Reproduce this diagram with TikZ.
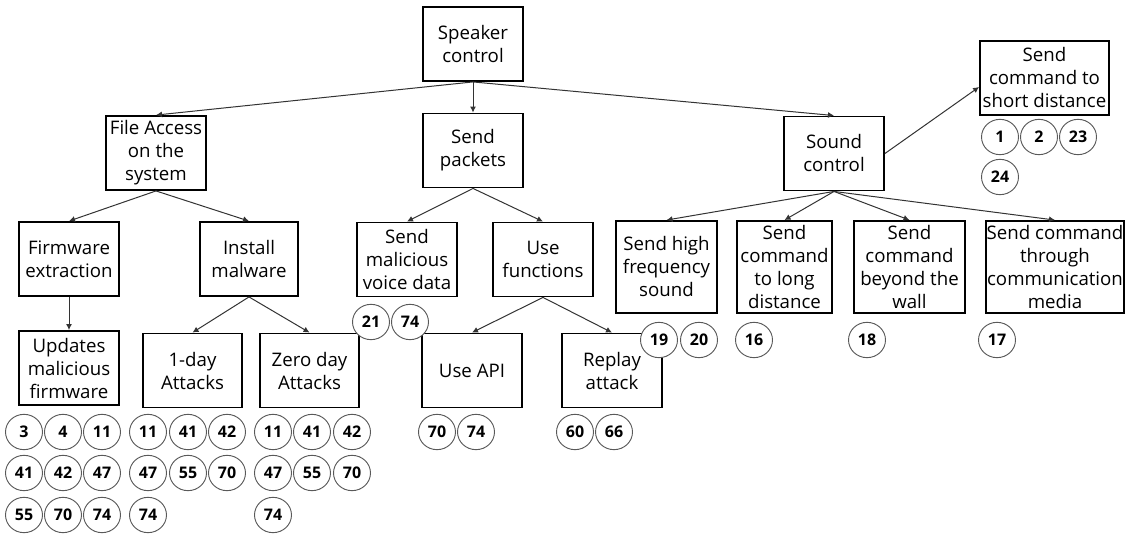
\documentclass[tikz,border=0pt]{standalone}
\usepackage{fontspec}
\setmainfont{Open Sans}
\usetikzlibrary{arrows.meta,shapes.geometric}
\begin{document}
\begin{tikzpicture}[x=0.75pt,y=-0.75pt,
  box/.style={draw=black,line width=1.4pt,fill=white,align=center,inner sep=0pt,
    minimum width=75pt,minimum height=55.5pt,font=\fontsize{14}{17.25}\selectfont},
  tall/.style={minimum height=69pt},
  num/.style={ellipse,draw=black!65,line width=0.7pt,fill=white,inner sep=0pt,
    minimum width=27.75pt,minimum height=26.5pt,font=\fontsize{12}{14}\selectfont\bfseries},
  conn/.style={draw=black!80,line width=0.75pt,-{Latex[length=4.5pt,width=4.5pt]}}]
\useasboundingbox (0,0) rectangle (1127,534);
% boxes
\node[box] (speaker) at (473,44) {Speaker\\control};
\node[box] (fileaccess) at (156,153) {File Access\\on the\\system};
\node[box] (packets) at (473,150.5) {Send\\packets};
\node[box] (sound) at (834,153.5) {Sound\\control};
\node[box,minimum width=96.75pt] (short) at (1044.5,78) {Send\\command to\\short distance};
\node[box] (firmware) at (69,259) {Firmware\\extraction};
\node[box,minimum width=73.5pt] (install) at (249,259) {Install\\malware};
\node[box] (voice) at (407,259.5) {Send\\malicious\\voice data};
\node[box] (functions) at (543,259.5) {Use\\functions};
\node[box,tall,minimum width=75.75pt] (highfreq) at (666.5,267) {Send high\\frequency\\sound};
\node[box,tall,minimum width=71.25pt] (long) at (784.5,267) {Send\\command\\to long\\distance};
\node[box,tall,minimum width=83.25pt] (wall) at (909.5,267) {Send\\command\\beyond the\\wall};
\node[box,tall,minimum width=103.5pt] (media) at (1055,267) {Send command\\through\\communication\\media};
\node[box] (updates) at (69,368) {Updates\\malicious\\firmware};
\node[box,minimum width=74.25pt] (oneday) at (192.5,370.5) {1-day\\Attacks};
\node[box,minimum width=74.25pt] (zeroday) at (309.5,370.5) {Zero day\\Attacks};
\node[box] (api) at (472,370.5) {Use API};
\node[box] (replay) at (612,370.5) {Replay\\attack};
% connectors
\draw[conn] (speaker.south) -- (fileaccess.north);
\draw[conn] (speaker.south) -- (packets.north);
\draw[conn] (speaker.south) -- (sound.north);
\draw[conn] (fileaccess.south) -- (firmware.north);
\draw[conn] (fileaccess.south) -- (install.north);
\draw[conn] (packets.south) -- (voice.north);
\draw[conn] (packets.south) -- (functions.north);
\draw[conn] (sound.east) -- ([yshift=-6.75pt]short.west);
\draw[conn] (sound.south) -- (highfreq.north);
\draw[conn] (sound.south) -- (long.north);
\draw[conn] (sound.south) -- (wall.north);
\draw[conn] (sound.south) -- (media.north);
\draw[conn] (firmware.south) -- (updates.north);
\draw[conn] (install.south) -- (oneday.north);
\draw[conn] (install.south) -- (zeroday.north);
\draw[conn] (functions.south) -- (api.north);
\draw[conn] (functions.south) -- (replay.north);
% reference numbers
\node[num] (u1) at (24,432) {3};
\node[num] (u2) at (63,432) {4};
\node[num] (u3) at (102,432) {11};
\node[num] (u4) at (24,473) {41};
\node[num] (u5) at (63,473) {42};
\node[num] (u6) at (102,473) {47};
\node[num] (u7) at (24,515) {55};
\node[num] (u8) at (63,515) {70};
\node[num] (u9) at (102,515) {74};
\node[num] (o1) at (148,432) {11};
\node[num] (o2) at (188,432) {41};
\node[num] (o3) at (227,432) {42};
\node[num] (o4) at (148,473) {47};
\node[num] (o5) at (188,473) {55};
\node[num] (o6) at (227,473) {70};
\node[num] (o7) at (148,515) {74};
\node[num] (z1) at (273,432) {11};
\node[num] (z2) at (312,432) {41};
\node[num] (z3) at (352,432) {42};
\node[num] (z4) at (273,473) {47};
\node[num] (z5) at (312,473) {55};
\node[num] (z6) at (352,473) {70};
\node[num] (z7) at (273,515) {74};
\node[num] (v1) at (371,322) {21};
\node[num] (v2) at (410,322) {74};
\node[num] (a1) at (437,432) {70};
\node[num] (a2) at (476,432) {74};
\node[num] (r1) at (575,432) {60};
\node[num] (r2) at (614,432) {66};
\node[num] (h1) at (659,340) {19};
\node[num] (h2) at (699,340) {20};
\node[num] (l1) at (754,340) {16};
\node[num] (w1) at (867,340) {18};
\node[num] (m1) at (997,340) {17};
\node[num] (s1) at (1000,137) {1};
\node[num] (s2) at (1039,137) {2};
\node[num] (s3) at (1078,137) {23};
\node[num] (s4) at (1000,177) {24};
\end{tikzpicture}
\end{document}
